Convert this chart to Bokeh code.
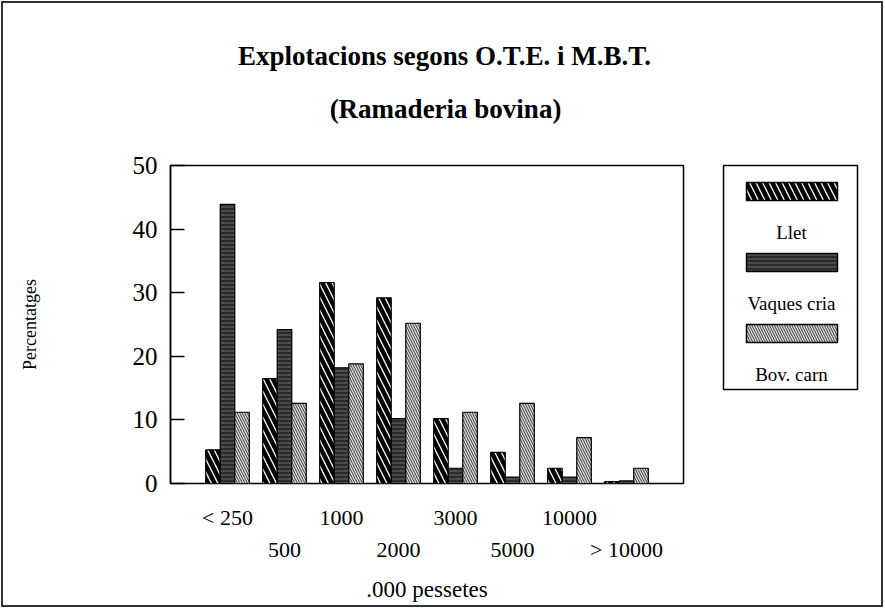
from bokeh.plotting import figure
from bokeh.models import ColumnDataSource, LinearAxis, FixedTicker, Range1d
from bokeh.layouts import row, column
from bokeh.transform import dodge
from bokeh.embed import file_html
from bokeh.resources import INLINE
from bokeh.core.properties import value

# ---------------- data ----------------
categories = ["< 250", "500", "1000", "2000", "3000", "5000", "10000", "> 10000"]
llet = [5.3, 16.5, 31.6, 29.2, 10.2, 4.9, 2.4, 0.3]
vaques_cria = [43.9, 24.2, 18.2, 10.2, 2.4, 1.0, 1.0, 0.4]
bov_carn = [11.2, 12.6, 18.8, 25.2, 11.2, 12.6, 7.2, 2.4]
series_names = ["Llet", "Vaques cria", "Bov. carn"]
y_ticks = [0, 10, 20, 30, 40, 50]
title_lines = ["Explotacions segons O.T.E. i M.B.T.", "(Ramaderia bovina)"]
y_label = "Percentatges"
x_label = ".000 pessetes"

SERIF = "Liberation Serif"
TOTAL_W, TOTAL_H = 884, 608
TH = 140                      # height of the title strip
BODY_H = TOTAL_H - TH

positions = list(range(1, len(categories) + 1))
source = ColumnDataSource(dict(x=positions, llet=llet, vaques=vaques_cria, bov=bov_carn))

styles = [
    dict(fill_color="white", hatch_pattern="\\", hatch_color="black", hatch_weight=4.5, hatch_scale=13),
    dict(fill_color="#2b2b2b", hatch_pattern="-", hatch_color="#6a6a6a", hatch_weight=1, hatch_scale=4),
    dict(fill_color="#555555", hatch_pattern="\\", hatch_color="#e6e6e6", hatch_weight=1.1, hatch_scale=5),
]
fields = ["llet", "vaques", "bov"]

# ---------------- title strip ----------------
t = figure(width=TOTAL_W, height=TH, x_range=Range1d(0, TOTAL_W), y_range=Range1d(0, TH),
           output_backend="svg", toolbar_location=None,
           x_axis_location=None, y_axis_location=None, min_border=0)
t.frame_align = False
t.grid.visible = False
t.outline_line_color = None
t.background_fill_color = None
t.border_fill_color = None
t.text(x=[444, 445], y=[TH - 55, TH - 108], text=title_lines,
       text_align="center", text_baseline="middle",
       text_font=value(SERIF), text_font_size="27px", text_font_style="bold",
       text_color="black")

# ---------------- main chart ----------------
PW = 721
p = figure(width=PW, height=BODY_H,
           x_range=Range1d(0, len(categories) + 1), y_range=Range1d(0, 50),
           output_backend="svg", toolbar_location=None,
           x_axis_location=None,
           min_border_left=170, min_border_right=38,
           min_border_top=165 - TH, min_border_bottom=TOTAL_H - 483)
p.frame_align = False
p.grid.visible = False
p.outline_line_color = "black"
p.outline_line_width = 1.5
p.background_fill_color = "white"
p.border_fill_color = None

bw = 0.255
offsets = [-bw, 0, bw]
for f, off, st in zip(fields, offsets, styles):
    p.vbar(x=dodge("x", off, range=p.x_range), top=f, width=bw, bottom=0,
           source=source, line_color="black", line_width=1.2, **st)

# y axis
ya = p.yaxis[0]
ya.ticker = FixedTicker(ticks=y_ticks)
ya.major_tick_in = 14
ya.major_tick_out = 0
ya.minor_tick_line_color = None
ya.major_tick_line_width = 1.5
ya.axis_line_width = 1.5
ya.major_label_text_font = SERIF
ya.major_label_text_font_size = "25px"
ya.major_label_text_color = "black"
ya.major_label_standoff = 13
ya.axis_label = y_label
ya.axis_label_text_font = SERIF
ya.axis_label_text_font_size = "18px"
ya.axis_label_text_font_style = "normal"
ya.axis_label_text_color = "black"
ya.axis_label_standoff = 90

# two staggered x axes
odd = positions[0::2]
even = positions[1::2]
ax1 = LinearAxis(ticker=FixedTicker(ticks=odd),
                 major_label_overrides={i: categories[i - 1] for i in odd})
ax2 = LinearAxis(ticker=FixedTicker(ticks=even),
                 major_label_overrides={i: categories[i - 1] for i in even},
                 axis_label=x_label)
for ax, so in ((ax1, 15), (ax2, -2)):
    ax.axis_line_color = None
    ax.major_tick_line_color = None
    ax.minor_tick_line_color = None
    ax.major_label_text_font = SERIF
    ax.major_label_text_font_size = "22px"
    ax.major_label_text_color = "black"
    ax.major_label_standoff = so
ax2.axis_label_text_font = SERIF
ax2.axis_label_text_font_size = "23px"
ax2.axis_label_text_font_style = "normal"
ax2.axis_label_text_color = "black"
ax2.axis_label_standoff = 12
p.add_layout(ax1, "below")
p.add_layout(ax2, "below")

# ---------------- legend panel ----------------
LW, LH = 134, 224
QW = TOTAL_W - PW
q = figure(width=QW, height=BODY_H, x_range=Range1d(0, LW), y_range=Range1d(0, LH),
           output_backend="svg", toolbar_location=None,
           x_axis_location=None, y_axis_location=None,
           min_border_left=2, min_border_right=QW - 2 - LW,
           min_border_top=165 - TH, min_border_bottom=BODY_H - (165 - TH) - LH)
q.frame_align = False
q.grid.visible = False
q.outline_line_color = "black"
q.outline_line_width = 1.5
q.background_fill_color = "white"
q.border_fill_color = None

sw_y = [LH - 26 - i * 71 for i in range(3)]
lab_y = [y - 41 for y in sw_y]
for i, st in enumerate(styles):
    q.rect(x=[LW / 2 + 1.5], y=[sw_y[i]], width=91, height=18,
           line_color="black", line_width=1.5, **st)
q.text(x=[LW / 2 + 1] * 3, y=lab_y, text=series_names,
       text_align="center", text_baseline="middle",
       text_font=value(SERIF), text_font_size="19px", text_color="black")

layout = column(t, row(p, q), width=TOTAL_W, height=TOTAL_H,
                styles={"outline": "2px solid #333", "outline-offset": "-3px",
                        "background-color": "white"})

open("out.html", "w").write(file_html(layout, INLINE))
